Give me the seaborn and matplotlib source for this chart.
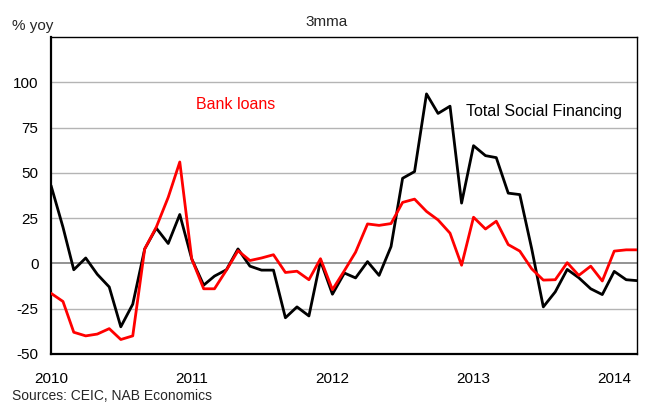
import numpy as np
import pandas as pd
import matplotlib
matplotlib.use("Agg")
import matplotlib.pyplot as plt
import seaborn as sns

# monthly, Jan 2010 - Mar 2014, % yoy (3mma)
months = pd.date_range("2010-01-01", periods=51, freq="MS")

tsf = [43, 20, -3.5, 3, -6, -13, -35, -22.5, 8, 19.5, 11, 27,
       2.5, -12, -7, -3.5, 8, -1.5, -3.7, -3.7, -30, -24, -29, 1.5,
       -17, -5.3, -8, 1, -6.6, 9.3, 47, 50.7, 93.6, 82.8, 86.8, 33.3,
       65, 59.5, 58.4, 38.8, 38, 8, -24, -15.7, -3.3, -7.9, -14, -17.2,
       -4.4, -9, -9.5]

loans = [-16.5, -21, -38, -40, -39, -36, -42, -40, 8, 20, 36.5, 56,
         2.5, -14, -14, -3.7, 7, 1.6, 3, 4.8, -5, -4.3, -9, 2.6,
         -14.5, -4, 6.2, 21.8, 21, 22, 33.7, 35.5, 28.7, 24, 16.7, -1,
         25.5, 19, 23.3, 10.4, 6.8, -3, -9.2, -9, 0.4, -6.6, -1.5, -9.7,
         6.8, 7.5, 7.5]

series_names = ["Total Social Financing", "Bank loans"]
colours = ["#000000", "#ff0000"]
year_labels = ["2010", "2011", "2012", "2013", "2014"]
y_ticks = [-50, -25, 0, 25, 50, 75, 100]

df = pd.DataFrame({
    "month": list(months) * 2,
    "value": tsf + loans,
    "series": [series_names[0]] * len(months) + [series_names[1]] * len(months),
})

sns.set_style("white")
plt.rcParams["font.family"] = ["Liberation Sans", "DejaVu Sans"]
plt.rcParams["font.size"] = 10

fig = plt.figure(figsize=(6.67, 4.03), dpi=100)
ax = fig.add_axes([0.0765, 0.1216, 0.8785, 0.7866])

# gridlines
for t in y_ticks:
    if t == 0:
        ax.axhline(t, color="#808080", lw=1.2, zorder=1)
    elif t > -50:
        ax.axhline(t, color="#b4b4b4", lw=1.0, zorder=1)

sns.lineplot(data=df, x="month", y="value", hue="series",
             hue_order=series_names, palette=colours,
             linewidth=2.0, legend=False, ax=ax, zorder=3)

ax.set_xlim(months[0], months[-1])
ax.set_ylim(-50, 125)
ax.set_yticks(y_ticks)
ax.set_yticklabels([str(t) for t in y_ticks])
year_ticks = [pd.Timestamp(y + "-01-01") for y in year_labels]
ax.set_xticks(year_ticks)
ax.set_xticklabels(year_labels)
ax.tick_params(axis="both", length=0, labelsize=11, colors="#000000")
ax.tick_params(axis="x", pad=13)
ax.tick_params(axis="y", pad=9)
ax.set_xlabel("")
ax.set_ylabel("")

for side in ["left", "bottom", "top", "right"]:
    ax.spines[side].set_visible(True)
    ax.spines[side].set_color("#000000")
ax.spines["left"].set_linewidth(1.6)
ax.spines["bottom"].set_linewidth(1.6)
ax.spines["top"].set_linewidth(1.0)
ax.spines["right"].set_linewidth(1.0)

fig.text(0.018, 0.935, "% yoy", fontsize=11, va="center", ha="left")
fig.text(0.49, 0.945, "3mma", fontsize=11, va="center", ha="center")
ax.text(pd.Timestamp("2011-01-13"), 88, "Bank loans", color="#ff0000",
        fontsize=11.5, va="center", ha="left")
ax.text(pd.Timestamp("2012-12-13"), 84, "Total Social Financing", color="#000000",
        fontsize=11.5, va="center", ha="left")
fig.text(0.018, 0.0, "Sources: CEIC, NAB Economics", fontsize=10,
         va="bottom", ha="left")

fig.savefig("out.png", dpi=100)
